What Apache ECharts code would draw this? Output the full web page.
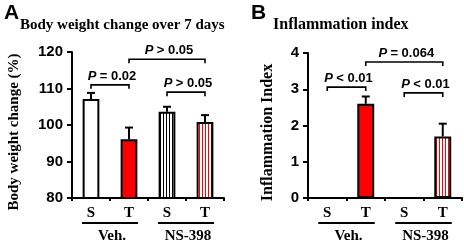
<!DOCTYPE html>
<html>
<head>
<meta charset="utf-8">
<script src="https://cdn.jsdelivr.net/npm/echarts@6/dist/echarts.min.js"></script>
<style>
html, body { margin: 0; padding: 0; background: #fff; }
#main { width: 464px; height: 242px; }
</style>
</head>
<body>
<div id="main"></div>
<script>
// data
var categories = ['S', 'T', 'S', 'T'];
var groupNames = ['Veh.', 'NS-398'];
var groupRanges = [[0, 1], [2, 3]];
var weightMean = [107.1, 96.1, 103.6, 100.8];
var weightSem = [1.7, 3.2, 1.4, 1.9];
var inflamMean = [0, 2.6, 0, 1.7];
var inflamSem = [0, 0.2, 0, 0.35];
var weightTicks = [80, 90, 100, 110, 120];
var inflamTicks = [0, 1, 2, 3, 4];
// brackets: [from, to, level, sign, p]
var weightBrackets = [[0, 1, 111, '=', '0.02'], [1, 3, 118, '>', '0.05'], [2, 3, 109, '>', '0.05']];
var inflamBrackets = [[0, 1, 3.06, '<', '0.01'], [1, 3, 3.75, '=', '0.064'], [2, 3, 2.9, '<', '0.01']];

function stripes(color) {
    var c = document.createElement('canvas');
    c.width = 3; c.height = 4;
    var ctx = c.getContext('2d');
    ctx.fillStyle = '#fff';
    ctx.fillRect(0, 0, 3, 4);
    ctx.fillStyle = color;
    ctx.fillRect(1, 0, 1, 4);
    return c;
}
var fills = ['#ffffff', '#ff0000', { image: stripes('#000'), repeat: 'repeat' }, { image: stripes('#ff0000'), repeat: 'repeat' }];

var serif = '"Liberation Serif", "Times New Roman", serif';
var sans = '"Liberation Sans", Arial, sans-serif';

function barData(vals) {
    return vals.map(function (v, i) {
        return { value: v, itemStyle: { color: fills[i] } };
    });
}

function errData(mean, sem) {
    var out = [];
    mean.forEach(function (m, i) { if (sem[i] > 0) out.push([i, m, sem[i]]); });
    return out;
}

function renderErr(params, api) {
    var base = api.coord([api.value(0), api.value(1)]);
    var top = api.coord([api.value(0), api.value(1) + api.value(2)]);
    var st = { stroke: '#000', lineWidth: 2 };
    return {
        type: 'group',
        children: [
            { type: 'line', shape: { x1: base[0], y1: base[1], x2: top[0], y2: top[1] }, style: st },
            { type: 'line', shape: { x1: top[0] - 4, y1: top[1], x2: top[0] + 4, y2: top[1] }, style: st }
        ]
    };
}

function renderBracket(params, api) {
    var p1 = api.coord([api.value(0), api.value(2)]);
    var p2 = api.coord([api.value(1), api.value(2)]);
    return {
        type: 'group',
        children: [
            {
                type: 'polyline',
                shape: { points: [[p1[0], p1[1] + 4], [p1[0], p1[1]], [p2[0], p2[1]], [p2[0], p2[1] + 4]] },
                style: { stroke: '#000', lineWidth: 1.6, fill: null }
            },
            {
                type: 'text',
                x: (p1[0] + p2[0]) / 2 + 2,
                y: p1[1] - 2,
                style: {
                    text: '{p|P} {n|' + api.value(3) + ' ' + api.value(4) + '}',
                    align: 'center',
                    verticalAlign: 'bottom',
                    rich: {
                        p: { fontFamily: sans, fontWeight: 'bold', fontStyle: 'italic', fontSize: 13, fill: '#000' },
                        n: { fontFamily: sans, fontWeight: 'bold', fontSize: 13, fill: '#000' }
                    }
                }
            }
        ]
    };
}

function renderGroup(params, api) {
    var a = api.coord([api.value(0), 0]);
    var b = api.coord([api.value(1), 0]);
    var axisY = params.coordSys.y + params.coordSys.height;
    return {
        type: 'group',
        children: [
            { type: 'line', shape: { x1: a[0] - 9, y1: axisY + 25, x2: b[0] + 9, y2: axisY + 25 }, style: { stroke: '#000', lineWidth: 2 } },
            {
                type: 'text', x: (a[0] + b[0]) / 2 + 2, y: axisY + 38,
                style: { text: groupNames[params.dataIndex], align: 'center', verticalAlign: 'middle', fontFamily: serif, fontWeight: 'bold', fontSize: 15, fill: '#000' }
            }
        ]
    };
}

function xAxis(idx) {
    return {
        type: 'category', gridIndex: idx, data: categories,
        axisLine: { lineStyle: { color: '#000', width: 2 } },
        axisTick: { show: true, length: 3, lineStyle: { color: '#000', width: 2 } },
        axisLabel: { margin: 8, color: '#000', fontFamily: serif, fontWeight: 'bold', fontSize: 15 }
    };
}

function yAxis(idx, ticks, name, gap, size) {
    return {
        type: 'value', gridIndex: idx,
        min: ticks[0], max: ticks[ticks.length - 1], interval: ticks[1] - ticks[0],
        name: name, nameLocation: 'middle', nameGap: gap,
        nameTextStyle: { color: '#000', fontFamily: serif, fontWeight: 'bold', fontSize: size, padding: [0, 14, 0, 0] },
        axisLine: { show: true, lineStyle: { color: '#000', width: 2 } },
        axisTick: { show: true, length: 5, lineStyle: { color: '#000', width: 2 } },
        splitLine: { show: false },
        axisLabel: { margin: 9, color: '#000', fontFamily: sans, fontWeight: 'bold', fontSize: 15 }
    };
}

var myChart = echarts.init(document.getElementById('main'));

var option = {
    animation: false,
    backgroundColor: '#fff',
    title: [
        { text: 'A', left: -1, top: -2, textStyle: { fontFamily: sans, fontWeight: 'bold', fontSize: 21, color: '#000' } },
        { text: 'Body weight change over 7 days', left: 15, top: 13, textStyle: { fontFamily: serif, fontWeight: 'bold', fontSize: 15, color: '#000' } },
        { text: 'B', left: 246, top: -2, textStyle: { fontFamily: sans, fontWeight: 'bold', fontSize: 21, color: '#000' } },
        { text: 'Inflammation index', left: 268, top: 12, textStyle: { fontFamily: serif, fontWeight: 'bold', fontSize: 16, color: '#000' } }
    ],
    grid: [
        { left: 72, top: 52, width: 152, height: 146 },
        { left: 308, top: 53, width: 154, height: 145 }
    ],
    xAxis: [xAxis(0), xAxis(1)],
    yAxis: [
        yAxis(0, weightTicks, 'Body weight change (%)', 50, 15),
        yAxis(1, inflamTicks, 'Inflammation Index', 32, 16)
    ],
    series: [
        {
            type: 'bar', xAxisIndex: 0, yAxisIndex: 0, barWidth: '44%',
            itemStyle: { borderColor: '#000', borderWidth: 2 },
            data: barData(weightMean)
        },
        {
            type: 'bar', xAxisIndex: 1, yAxisIndex: 1, barWidth: '44%',
            itemStyle: { borderColor: '#000', borderWidth: 2 },
            data: barData(inflamMean)
        },
        { type: 'custom', xAxisIndex: 0, yAxisIndex: 0, clip: false, renderItem: renderErr, data: errData(weightMean, weightSem), z: 1 },
        { type: 'custom', xAxisIndex: 1, yAxisIndex: 1, clip: false, renderItem: renderErr, data: errData(inflamMean, inflamSem), z: 1 },
        { type: 'custom', xAxisIndex: 0, yAxisIndex: 0, clip: false, renderItem: renderBracket, data: weightBrackets },
        { type: 'custom', xAxisIndex: 1, yAxisIndex: 1, clip: false, renderItem: renderBracket, data: inflamBrackets },
        { type: 'custom', xAxisIndex: 0, yAxisIndex: 0, clip: false, renderItem: renderGroup, data: groupRanges },
        { type: 'custom', xAxisIndex: 1, yAxisIndex: 1, clip: false, renderItem: renderGroup, data: groupRanges }
    ]
};

myChart.setOption(option);
</script>
</body>
</html>
